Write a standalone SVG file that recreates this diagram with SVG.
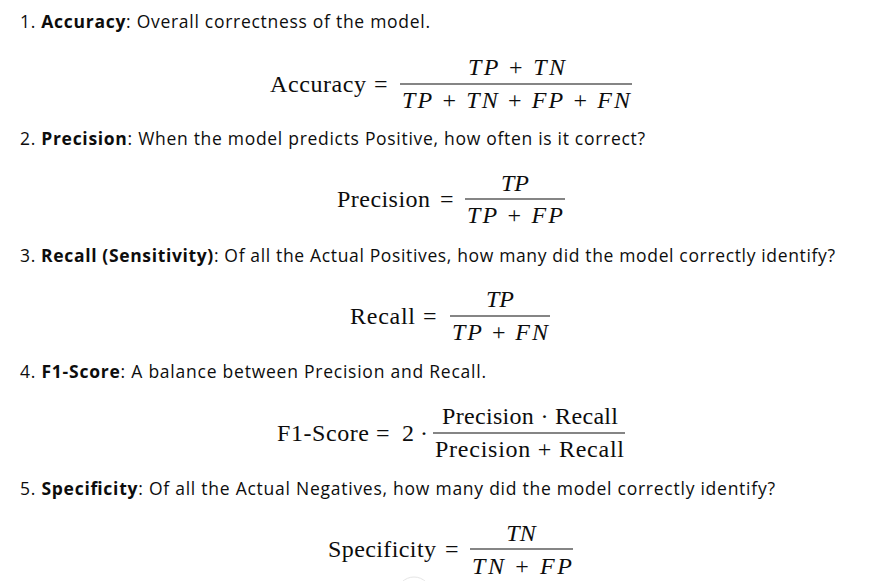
<svg xmlns="http://www.w3.org/2000/svg" width="870" height="581" viewBox="0 0 870 581">
<style>
.t{font-family:"Open Sans","Liberation Sans",sans-serif;font-size:17.5px;fill:#0d0d0d}
.b{font-weight:bold}
.m{font-family:"Liberation Serif","DejaVu Serif",serif;font-size:24px;fill:#0d0d0d}
.i{font-style:italic}
.bar{stroke:#0d0d0d;stroke-width:1.2}
</style>
<rect width="870" height="581" fill="#fff"/>
<text class="t" x="20" y="28" textLength="410" lengthAdjust="spacing">1.  <tspan class="b">Accuracy</tspan>: Overall correctness of the model.</text>
<text class="m" x="270" y="92" textLength="96" lengthAdjust="spacing">Accuracy</text>
<text class="m" x="374" y="92">=</text>
<line class="bar" x1="400" y1="84" x2="632" y2="84"/>
<text class="m" x="468" y="75" textLength="97" lengthAdjust="spacing"><tspan class="i">TP</tspan> + <tspan class="i">TN</tspan></text>
<text class="m" x="402" y="108" textLength="228" lengthAdjust="spacing"><tspan class="i">TP</tspan> + <tspan class="i">TN</tspan> + <tspan class="i">FP</tspan> + <tspan class="i">FN</tspan></text>

<text class="t" x="20" y="145" textLength="625" lengthAdjust="spacing">2.  <tspan class="b">Precision</tspan>: When the model predicts Positive, how often is it correct?</text>
<text class="m" x="337" y="207" textLength="93" lengthAdjust="spacing">Precision</text>
<text class="m" x="440" y="207">=</text>
<line class="bar" x1="465" y1="199" x2="565" y2="199"/>
<text class="m i" x="515" y="191" text-anchor="middle">TP</text>
<text class="m" x="467" y="223" textLength="96" lengthAdjust="spacing"><tspan class="i">TP</tspan> + <tspan class="i">FP</tspan></text>

<text class="t" x="20" y="262" textLength="815" lengthAdjust="spacing">3.  <tspan class="b">Recall (Sensitivity)</tspan>: Of all the Actual Positives, how many did the model correctly identify?</text>
<text class="m" x="350" y="324" textLength="65" lengthAdjust="spacing">Recall</text>
<text class="m" x="423" y="324">=</text>
<line class="bar" x1="450" y1="316" x2="550" y2="316"/>
<text class="m i" x="500" y="307" text-anchor="middle">TP</text>
<text class="m" x="452" y="340" textLength="96" lengthAdjust="spacing"><tspan class="i">TP</tspan> + <tspan class="i">FN</tspan></text>

<text class="t" x="20" y="378" textLength="466" lengthAdjust="spacing">4.  <tspan class="b">F1-Score</tspan>: A balance between Precision and Recall.</text>
<text class="m" x="277" y="441" textLength="92" lengthAdjust="spacing">F1-Score</text>
<text class="m" x="376" y="441">=</text>
<text class="m" x="402" y="441">2 ·</text>
<line class="bar" x1="433" y1="433" x2="625" y2="433"/>
<text class="m" x="442" y="424" textLength="176" lengthAdjust="spacing">Precision · Recall</text>
<text class="m" x="435" y="457" textLength="189" lengthAdjust="spacing">Precision + Recall</text>

<text class="t" x="20" y="495" textLength="755" lengthAdjust="spacing">5.  <tspan class="b">Specificity</tspan>: Of all the Actual Negatives, how many did the model correctly identify?</text>
<text class="m" x="328" y="557" textLength="108" lengthAdjust="spacing">Specificity</text>
<text class="m" x="445" y="557">=</text>
<line class="bar" x1="470" y1="549" x2="573" y2="549"/>
<text class="m i" x="521" y="541" text-anchor="middle">TN</text>
<text class="m" x="472" y="574" textLength="100" lengthAdjust="spacing"><tspan class="i">TN</tspan> + <tspan class="i">FP</tspan></text>
<circle cx="414" cy="594" r="17" fill="none" stroke="#e5e5e5"/>
</svg>
